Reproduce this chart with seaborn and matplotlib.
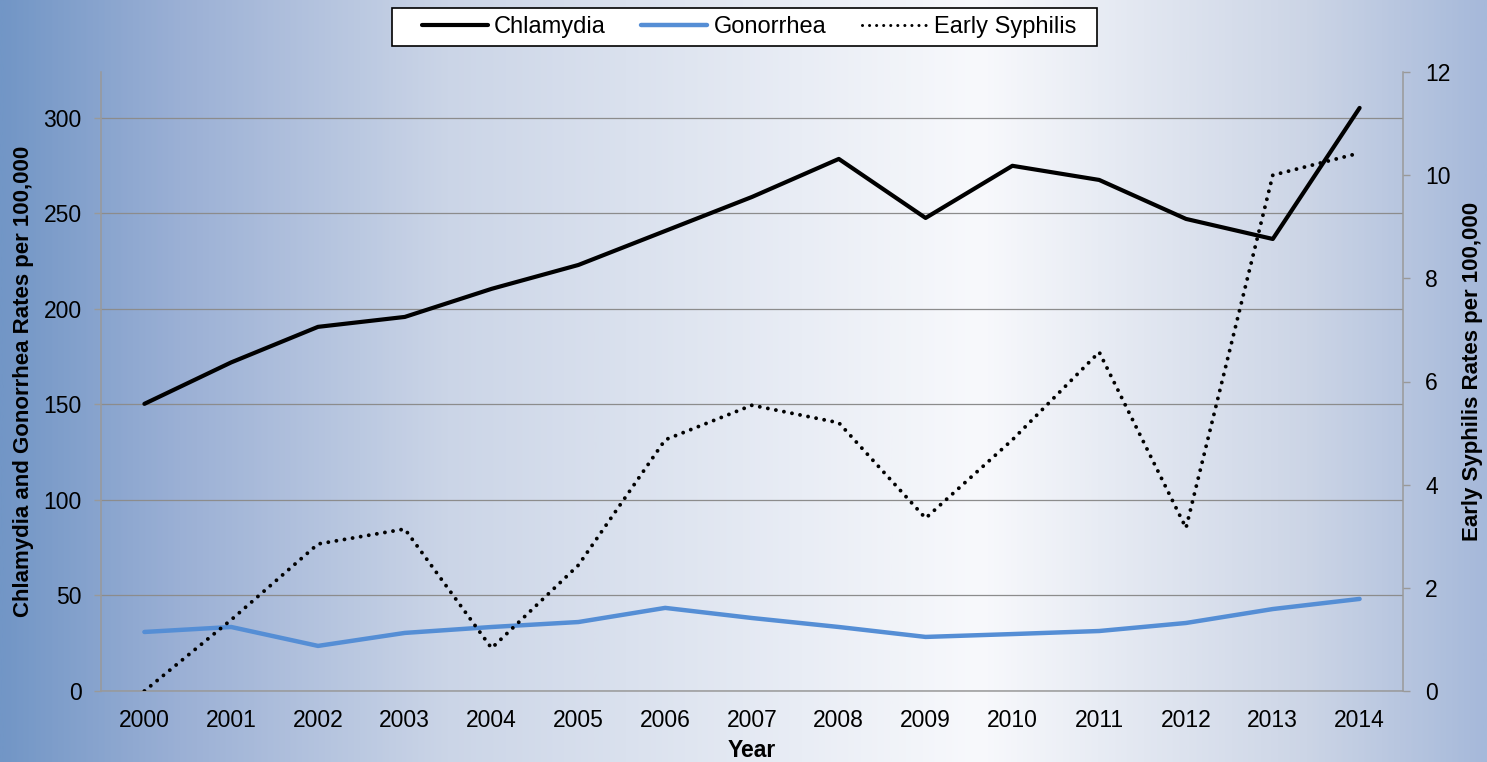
import numpy as np
import pandas as pd
import matplotlib.pyplot as plt
import seaborn as sns
from matplotlib.colors import LinearSegmentedColormap
from matplotlib.lines import Line2D
from matplotlib.patches import Rectangle

# ------------------------------------------------------------
# DATA
# ------------------------------------------------------------

years = [2000, 2001, 2002, 2003, 2004, 2005, 2006, 2007,
         2008, 2009, 2010, 2011, 2012, 2013, 2014]

chlamydia = [150.3, 172.0, 190.6, 195.8, 210.5, 223.0, 240.8, 258.6,
             278.5, 247.6, 274.9, 267.5, 247.1, 236.6, 305.2]

gonorrhea = [30.9, 33.5, 23.6, 30.4, 33.5, 36.1, 43.5, 38.2,
             33.5, 28.3, 29.8, 31.4, 35.6, 42.9, 48.2]

early_syphilis = [0.0, 1.38, 2.85, 3.14, 0.83, 2.44, 4.87, 5.54,
                  5.20, 3.35, 4.87, 6.57, 3.16, 10.0, 10.43]

left_ticks = [0, 50, 100, 150, 200, 250, 300]
right_ticks = [0, 2, 4, 6, 8, 10, 12]

df = pd.DataFrame({
    "pos": np.arange(len(years)),
    "Chlamydia": chlamydia,
    "Gonorrhea": gonorrhea,
    "Early Syphilis": early_syphilis,
})

# ------------------------------------------------------------
# FIGURE
# ------------------------------------------------------------

sns.set_style("white")
plt.rcParams['font.family'] = ['Liberation Sans', 'DejaVu Sans']
plt.rcParams['text.color'] = 'black'
plt.rcParams['axes.labelcolor'] = 'black'
plt.rcParams['xtick.color'] = 'black'
plt.rcParams['ytick.color'] = 'black'

FS = 16.5
DOTS = (0, (0.01, 2.1))

fig = plt.figure(figsize=(14.87, 7.62), dpi=100)

# gradient background
bg = fig.add_axes([0, 0, 1, 1], zorder=-10)
cmap = LinearSegmentedColormap.from_list(
    "bg",
    [(0.0, "#7296c6"), (0.12, "#9bb0d5"), (0.3, "#cbd5e7"),
     (0.66, "#f8f9fc"), (0.88, "#ccd5e6"), (1.0, "#a6b9da")]
)
bg.imshow(np.linspace(0, 1, 512).reshape(1, -1), aspect="auto",
          cmap=cmap, extent=[0, 1, 0, 1])
bg.axis("off")

ax = fig.add_axes([101 / 1487, 1 - 691 / 762, 1302 / 1487, 619 / 762])
ax.set_facecolor("none")
ax2 = ax.twinx()
ax2.set_facecolor("none")

sns.lineplot(data=df, x="pos", y="Chlamydia", ax=ax, color="black",
             linewidth=3, zorder=3)
sns.lineplot(data=df, x="pos", y="Gonorrhea", ax=ax, color="#558ed5",
             linewidth=3.2, zorder=3)
sns.lineplot(data=df, x="pos", y="Early Syphilis", ax=ax2, color="black",
             linewidth=2.8, linestyle=DOTS, dash_capstyle="round", zorder=3)

# ------------------------------------------------------------
# AXES STYLING
# ------------------------------------------------------------

ax.set_xlim(-0.5, len(years) - 0.5)
ax.set_ylim(0, 324)
ax2.set_ylim(0, 12)

ax.set_yticks(left_ticks)
ax2.set_yticks(right_ticks)

ax.set_xticks(np.arange(len(years)))
ax.set_xticklabels([str(y) for y in years])
ax.set_xticks(np.arange(len(years) + 1) - 0.5, minor=True)
ax.tick_params(axis="x", which="major", length=0, pad=13, labelsize=FS)
ax.tick_params(axis="x", which="minor", length=5, color="#999999", width=1)
ax.tick_params(axis="y", length=5, color="#999999", width=1,
               labelsize=FS, pad=9)
ax2.tick_params(axis="y", length=5, color="#999999", width=1,
                labelsize=FS, pad=11)

ax.yaxis.grid(True, color="#8c8c8c", linewidth=0.9)
ax.set_axisbelow(True)

for a in (ax, ax2):
    a.spines["top"].set_visible(False)
    for s in ("left", "right", "bottom"):
        a.spines[s].set_color("#999999")
        a.spines[s].set_linewidth(1.1)
ax.spines["right"].set_visible(False)
ax2.spines["left"].set_visible(False)
ax2.spines["bottom"].set_visible(False)

ax.set_xlabel("Year", fontsize=FS, fontweight="bold", labelpad=5)
ax.set_ylabel("Chlamydia and Gonorrhea Rates per 100,000", fontsize=16,
              fontweight="bold", labelpad=7)
ax2.set_ylabel("Early Syphilis Rates per 100,000", fontsize=16,
               fontweight="bold")
ax2.yaxis.set_label_coords(1.045, 0.517)

# ------------------------------------------------------------
# LEGEND
# ------------------------------------------------------------

fig.patches.append(Rectangle((392 / 1487, 1 - 46 / 762), 705 / 1487, 38 / 762,
                             transform=fig.transFigure, facecolor="white",
                             edgecolor="black", linewidth=1.2, zorder=5))

handles = [
    Line2D([], [], color="black", linewidth=3),
    Line2D([], [], color="#558ed5", linewidth=3.2),
    Line2D([], [], color="black", linewidth=2.2, linestyle=(0, (0.01, 2.3)),
           dash_capstyle="round"),
]
leg = fig.legend(handles, ["Chlamydia", "Gonorrhea", "Early Syphilis"],
                 loc="center", bbox_to_anchor=(749 / 1487, 1 - 27 / 762),
                 ncol=3, frameon=False, fontsize=17,
                 handlelength=2.8, handletextpad=0.25, columnspacing=1.5,
                 borderpad=0.2, borderaxespad=0)
leg.set_zorder(6)

fig.savefig("out.png", dpi=100)
